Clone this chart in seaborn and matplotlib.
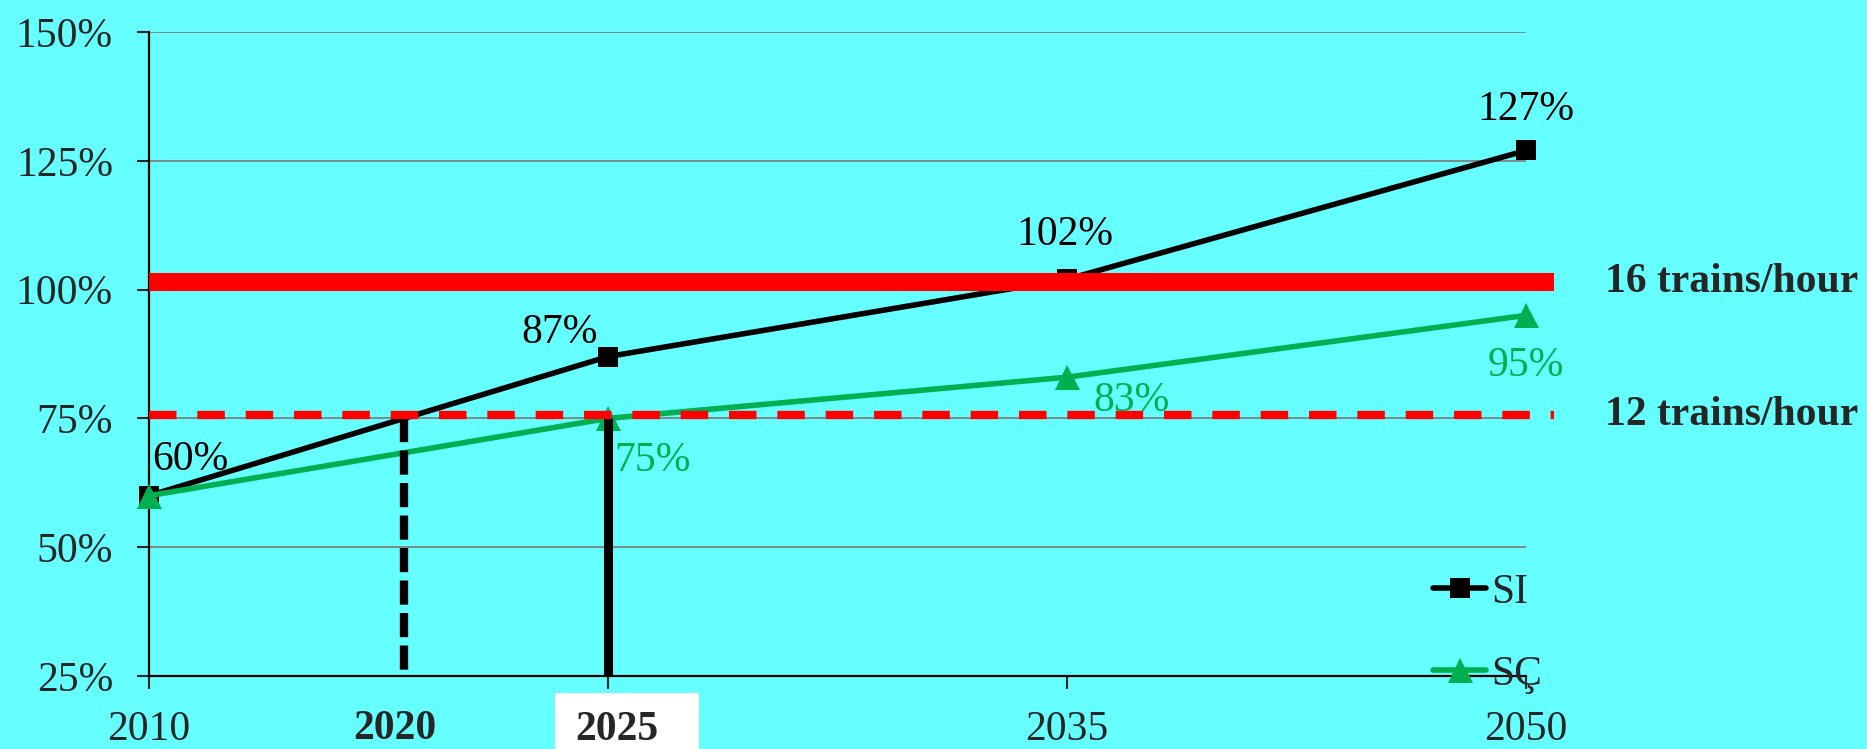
import numpy as np
import pandas as pd
import matplotlib
matplotlib.use("Agg")
import matplotlib.pyplot as plt
import matplotlib.transforms as mtransforms
from matplotlib.patches import Rectangle
import seaborn as sns

# ---- data -------------------------------------------------------------
years = ["2010", "2025", "2035", "2050"]
si_values = [60, 87, 102, 127]
sc_values = [60, 75, 83, 95]
series_names = ["SI", "SÇ"]
capacity_levels = [101.5, 75.7]
capacity_labels = ["16 trains/hour", "12 trains/hour"]
threshold = 75
y_ticks = [25, 50, 75, 100, 125, 150]

# ---- style ------------------------------------------------------------
BG = "#66FFFF"
GREEN = "#00B050"
RED = "#FF0000"
FS = 30

sns.set_style("ticks")
plt.rcParams["font.family"] = ["Liberation Serif", "DejaVu Serif"]
plt.rcParams["font.size"] = FS

positions = np.arange(len(years))
df = pd.DataFrame({
    "pos": np.concatenate([positions, positions]),
    "value": si_values + sc_values,
    "series": [series_names[0]] * len(years) + [series_names[1]] * len(years),
})

fig = plt.figure(figsize=(18.67, 7.49), dpi=100, facecolor=BG)
ax = fig.add_axes([149 / 1867, 1 - 676 / 749, 1377 / 1867, 644 / 749])
ax.set_facecolor(BG)

# gridlines
for t in y_ticks[1:]:
    ax.axhline(t, color="#808080", lw=1.3, zorder=1)

# series
sns.lineplot(data=df[df.series == series_names[0]], x="pos", y="value",
             color="black", marker="s", markersize=15, markeredgewidth=0,
             markeredgecolor="black", linewidth=4.0, label=series_names[0],
             ax=ax, zorder=3, clip_on=False)
sns.lineplot(data=df[df.series == series_names[1]], x="pos", y="value",
             color=GREEN, marker="^", markersize=18, markeredgewidth=0,
             markeredgecolor=GREEN, linewidth=4.0, label=series_names[1],
             ax=ax, zorder=3, clip_on=False)

# vertical markers: where SI reaches the threshold, and the 2025 mark
cross_x = (threshold - si_values[0]) / (si_values[1] - si_values[0])
ax.plot([cross_x, cross_x], [threshold, 26.0], color="black", lw=6,
        dashes=(2.9, 1.0), solid_capstyle="butt", dash_capstyle="butt", zorder=4)
ax.plot([positions[1], positions[1]], [threshold, y_ticks[0]], color="black",
        lw=6.5, solid_capstyle="butt", zorder=4)

# capacity lines
x_end = positions[-1] + 0.06
ax.plot([positions[0], x_end], [capacity_levels[0]] * 2, color=RED, lw=13,
        solid_capstyle="butt", clip_on=False, zorder=5)
ax.plot([positions[0], x_end], [capacity_levels[1]] * 2, color=RED, lw=6,
        dashes=(3.3, 2.5), dash_capstyle="butt", clip_on=False, zorder=5)

blend = mtransforms.blended_transform_factory(fig.transFigure, ax.transData)
for lvl, lab in zip(capacity_levels, capacity_labels):
    ax.text(1605 / 1867, lvl, lab, transform=blend, fontsize=FS,
            fontweight="bold", va="center", ha="left")

# value labels
si_offsets = [(41, 36), (-48, 24), (-2, 45), (0, 41)]
sc_offsets = [None, (44, -42), (64, -24), (0, -50)]
for x, v, off in zip(positions, si_values, si_offsets):
    ax.annotate(f"{v}%", (x, v), xytext=off, textcoords="offset pixels",
                ha="center", va="center", fontsize=FS, color="black",
                zorder=6, annotation_clip=False)
for x, v, off in zip(positions, sc_values, sc_offsets):
    if off is None:
        continue
    ax.annotate(f"{v}%", (x, v), xytext=off, textcoords="offset pixels",
                ha="center", va="center", fontsize=FS, color=GREEN,
                zorder=6, annotation_clip=False)

# axes
ax.set_xlim(positions[0], positions[-1])
ax.set_ylim(y_ticks[0], y_ticks[-1])
ax.set_xticks(positions)
ax.set_xticklabels(["" if y == "2025" else y for y in years])
ax.set_yticks(y_ticks)
ax.set_yticklabels([f"{t}%" for t in y_ticks])
ax.set_xlabel("")
ax.set_ylabel("")
ax.tick_params(axis="y", length=9, width=1.5, pad=17, labelsize=FS)
ax.tick_params(axis="x", length=9, width=1.5, pad=16, labelsize=FS)
for s in ["top", "right"]:
    ax.spines[s].set_visible(False)
for s in ["left", "bottom"]:
    ax.spines[s].set_linewidth(1.6)
    ax.spines[s].set_color("black")
    ax.spines[s].set_zorder(2)

# highlighted years
xt = mtransforms.blended_transform_factory(ax.transData, fig.transFigure)
ax.text(cross_x - 0.02, 1 - 729 / 749, "2020", transform=xt, ha="center",
        va="center", fontsize=FS, fontweight="bold", clip_on=False)
fig.patches.append(Rectangle((555 / 1867, 0), 144 / 1867, 56 / 749,
                             transform=fig.transFigure, facecolor="white",
                             edgecolor="none", zorder=10))
fig.text(617 / 1867, 1 - 730 / 749, "2025", ha="center", va="center",
         fontsize=FS, fontweight="bold", zorder=11)

# legend
leg = ax.legend(loc="center left", bbox_to_anchor=(0.9325, 0.066),
                frameon=False, handlelength=1.28, handletextpad=0.12,
                labelspacing=1.04, borderpad=0, borderaxespad=0, fontsize=FS)
leg.set_zorder(7)

fig.savefig("out.png", dpi=100, facecolor=BG)
